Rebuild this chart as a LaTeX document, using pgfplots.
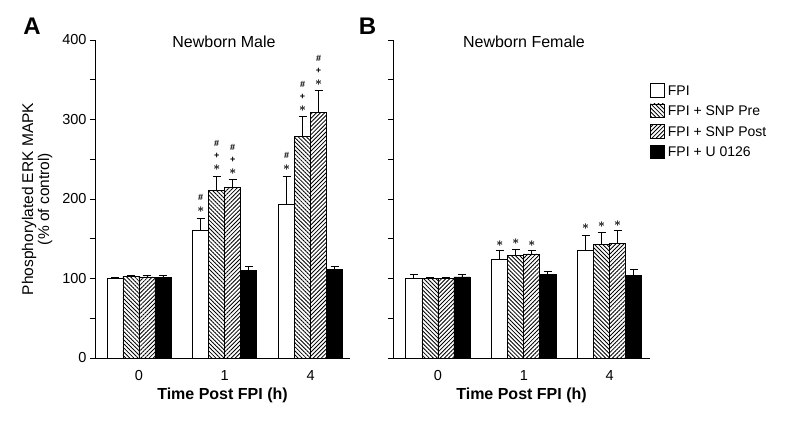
\documentclass[border=0pt]{standalone}
\usepackage{pgfplots}
\pgfplotsset{compat=1.18}
\usepackage{fontspec}
\setmainfont{Liberation Sans}
\usetikzlibrary{patterns,patterns.meta}
\newcommand{\st}{{\fontsize{12}{12}\selectfont\boldmath$\ast$}}
\newcommand{\stk}[3]{\node[font=\fontsize{9}{12}\selectfont\bfseries, inner sep=0pt, align=center, anchor=south] at (axis cs:#1,#2) {#3};}
\pgfplotsset{
  myaxis/.style={
    scale only axis, height=318pt, ymin=0, ymax=400,
    axis lines*=left, axis line style={line width=0.8pt},
    ytick={0,50,...,400},
    tick style={line width=0.8pt, black}, tick align=outside, major tick length=5pt,
    xtick={0,1,2}, xticklabels={0,1,4}, x tick style={draw=none},
    tick label style={font=\fontsize{14.5}{15}\selectfont},
    xticklabel style={yshift=-4pt},
    /pgf/number format/assume math mode=true,
    xlabel={Time Post FPI (h)},
    xlabel style={font=\fontsize{16}{17}\selectfont\bfseries, at={(axis description cs:0.5,0)}, anchor=center, yshift=-37pt},
    enlargelimits=false, clip=false,
    legend image code/.code={\draw[#1, line width=0.7pt] (0pt,-6pt) rectangle (14pt,7.5pt);},
  },
  bb/.style={ybar, bar width=0.187, bar shift=0pt, draw=black, line width=0.7pt,
    error bars/y dir=plus, error bars/y explicit,
    error bars/error bar style={line width=0.8pt, black, solid},
    error bars/error mark options={rotate=90, mark size=4pt, line width=0.8pt, black}},
  pre/.style={pattern={Lines[angle=-45,distance=2.9pt,line width=0.85pt]}},
  post/.style={pattern={Lines[angle=45,distance=2.9pt,line width=0.85pt]}},
}
\begin{document}
\begin{tikzpicture}
\useasboundingbox (0pt,0pt) rectangle (800pt,421pt);

\begin{axis}[myaxis, at={(95pt,63pt)}, anchor=south west, width=255pt,
  xmin=-0.512, xmax=2.46,
  yticklabels={0,,100,,200,,300,,400},
  ylabel={Phosphorylated ERK MAPK\\(\% of control)},
  ylabel style={at={(axis description cs:-0.227,0.5)}, anchor=center, align=center, font=\fontsize{15.5}{16}\selectfont},
]
% FPI
\addplot[bb, fill=white] coordinates {(-0.28,100) +- (0,1.5) (0.72,161) +- (0,15) (1.72,193) +- (0,35)};
% FPI + SNP Pre
\addplot[bb, pre] coordinates {(-0.093,103) +- (0,1) (0.907,211) +- (0,17) (1.907,279) +- (0,24.5)};
% FPI + SNP Post
\addplot[bb, post] coordinates {(0.093,102) +- (0,2) (1.093,215) +- (0,10) (2.093,309) +- (0,28)};
% FPI + U 0126
\addplot[bb, fill=black] coordinates {(0.28,101) +- (0,3) (1.28,110) +- (0,5) (2.28,111) +- (0,4)};
\stk{0.72}{183}{\#\\\st}
\stk{0.907}{236}{\#\\+\\\st}
\stk{1.093}{231}{\#\\+\\\st}
\stk{1.72}{236}{\#\\\st}
\stk{1.907}{310}{\#\\+\\\st}
\stk{2.093}{342.5}{\#\\+\\\st}
\end{axis}

\begin{axis}[myaxis, at={(393pt,63pt)}, anchor=south west, width=257pt,
  xmin=-0.523, xmax=2.47,
  yticklabels={},
  legend style={at={(rel axis cs:1,0.865)}, anchor=north west, draw=none, fill=none,
    font=\fontsize{14}{15}\selectfont, row sep=5pt, inner sep=0pt, nodes={inner xsep=3pt}},
  legend cell align=left,
]
\addplot[bb, fill=white] coordinates {(-0.28,100) +- (0,5) (0.72,124) +- (0,11) (1.72,136) +- (0,18)};
\addplot[bb, pre] coordinates {(-0.093,100) +- (0,1) (0.907,129) +- (0,8) (1.907,142.5) +- (0,15.5)};
\addplot[bb, post] coordinates {(0.093,100) +- (0,1) (1.093,131) +- (0,4.5) (2.093,144) +- (0,16)};
\addplot[bb, fill=black] coordinates {(0.28,102) +- (0,3) (1.28,105) +- (0,3.5) (2.28,104) +- (0,8)};
\legend{FPI, FPI + SNP Pre, FPI + SNP Post, FPI + U 0126}
\stk{0.72}{140.5}{\st}\stk{0.907}{142.5}{\st}\stk{1.093}{140.5}{\st}
\stk{1.72}{162}{\st}\stk{1.907}{164.5}{\st}\stk{2.093}{165.5}{\st}
\end{axis}

\node[font=\fontsize{24}{24}\selectfont\bfseries] at (32pt,394.5pt) {A};
\node[font=\fontsize{24}{24}\selectfont\bfseries] at (367.5pt,394.5pt) {B};
\node[font=\fontsize{16}{17}\selectfont] at (224pt,379pt) {Newborn Male};
\node[font=\fontsize{16}{17}\selectfont] at (524pt,379pt) {Newborn Female};
\end{tikzpicture}
\end{document}
